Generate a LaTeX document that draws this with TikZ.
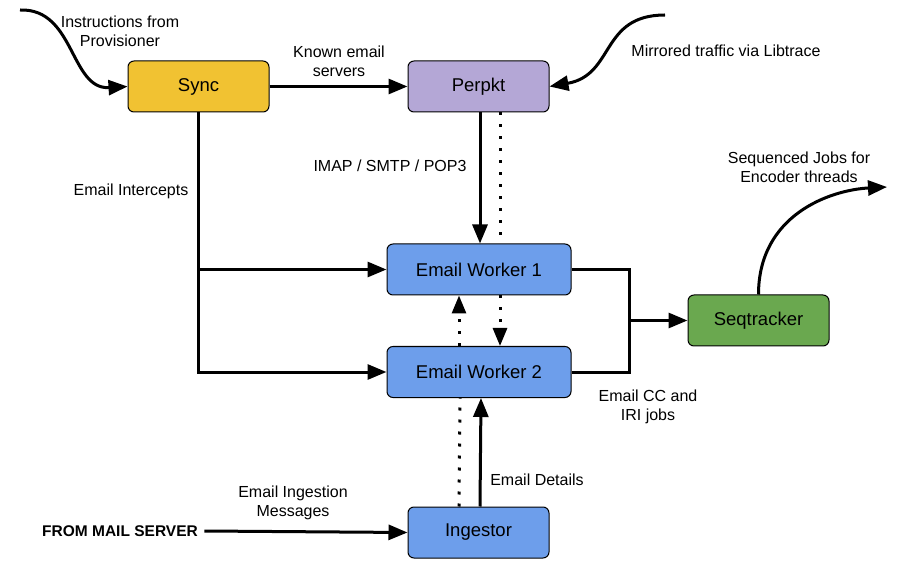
\documentclass[tikz,border=0pt]{standalone}
\usepackage{fontspec}
\setmainfont{Liberation Sans}
\usepackage{tikz}
\usetikzlibrary{shapes, arrows.meta, positioning}
\definecolor{syncc}{HTML}{F1C232}
\definecolor{perpc}{HTML}{B4A7D6}
\definecolor{workc}{HTML}{6D9EEB}
\definecolor{seqc}{HTML}{6AA84F}
\tikzstyle{box} = [rectangle, rounded corners=6pt, draw, line width=1pt, minimum height=51pt, font=\fontsize{18.5}{21}\selectfont]
\tikzstyle{lbl} = [align=center, font=\fontsize{16}{19}\selectfont]
\tikzstyle{line} = [draw, line width=3pt]
\tikzstyle{arrow} = [draw, line width=3pt, -{Triangle[length=19pt,width=15pt]}]
\tikzstyle{dots} = [draw, line width=3pt, dash pattern=on 3pt off 9pt]
\tikzstyle{darrow} = [dots, -{Triangle[length=18pt,width=14pt]}]

\begin{document}
\begin{tikzpicture}[x=1pt, y=-1pt]
			\useasboundingbox (0,0) rectangle (897,585);
			\node [box, fill=syncc, minimum width=141pt] (sync) at (198.5,86.5) {Sync};
			\node [box, fill=perpc, minimum width=141pt] (perpkt) at (478.5,86.5) {Perpkt};
			\node [box, fill=workc, minimum width=184pt] (ew1) at (479,269.5) {Email Worker 1};
			\node [box, fill=workc, minimum width=184pt] (ew2) at (479,372) {Email Worker 2};
			\node [box, fill=seqc, minimum width=141pt] (seq) at (758.5,320.5) {Seqtracker};
			\node [box, fill=workc, minimum width=141pt] (ingestor) at (478.5,532.5) {Ingestor};
			
			\node [lbl] (instr) at (120,31) {Instructions from\\Provisioner};
			\node [lbl] (known) at (339,61) {Known email\\servers};
			\node [lbl] (mirror) at (726,51) {Mirrored traffic via Libtrace};
			\node [lbl] (imap) at (390,166) {IMAP / SMTP / POP3};
			\node [lbl] (intercepts) at (131,191) {Email Intercepts};
			\node [lbl] (seqjobs) at (799,167) {Sequenced Jobs for\\Encoder threads};
			\node [lbl] (ccjobs) at (648,407) {Email CC and\\IRI jobs};
			\node [lbl] (details) at (537,480) {Email Details};
			\node [lbl] (ingmsg) at (293,503) {Email Ingestion\\Messages};
			\node [lbl, font=\fontsize{15.5}{19}\selectfont\bfseries] (mail) at (120,531) {FROM MAIL SERVER};
			
			\coordinate (provisioner) at (20,10);
			\coordinate (libtrace) at (665,15);
			\coordinate (encoders) at (887,187);
			\coordinate (join) at (629,320.5);
			
			\path [arrow] (provisioner) .. controls (75,8) and (70,90) .. (sync.west);
			\path [arrow] (sync) -- (perpkt);
			\path [arrow] (libtrace) .. controls (600,15) and (615,75) .. (perpkt.east);
			\path [arrow] ([xshift=1.5pt]perpkt.south) -- ([xshift=1pt]ew1.north);
			\path [dots] ([xshift=21.5pt]perpkt.south) -- ([xshift=21pt]ew1.north);
			\path [arrow] (sync.south) |- (ew1.west);
			\path [arrow] (sync.south) |- (ew2.west);
			\path [darrow] ([xshift=-20pt]ew2.north) -- ([xshift=-20pt]ew1.south);
			\path [darrow] ([xshift=21pt]ew1.south) -- ([xshift=21pt]ew2.north);
			\path [line] (ew1.east) -| (join);
			\path [line] (ew2.east) -| (join);
			\path [arrow] (join) -- (seq.west);
			\path [arrow] (seq.north) .. controls (758.5,215) and (830,190) .. (encoders);
			\path [dots] ([xshift=-19.5pt]ingestor.north) -- ([xshift=-19pt]ew2.south);
			\path [arrow] ([xshift=1.5pt]ingestor.north) -- ([xshift=2pt]ew2.south);
			\path [arrow] ([xshift=3pt]mail.east) -- (ingestor.west);
		\end{tikzpicture}
\end{document}
